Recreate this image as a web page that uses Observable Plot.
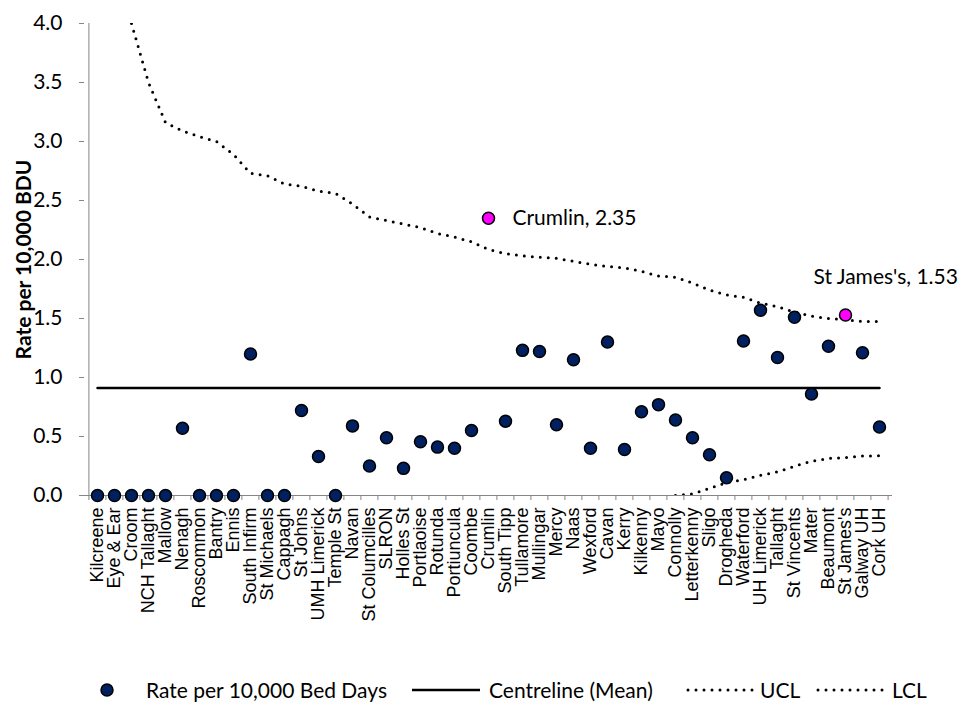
<!DOCTYPE html>
<html><head><meta charset="utf-8">
<script src="https://cdn.jsdelivr.net/npm/d3@7"></script>
<script src="https://cdn.jsdelivr.net/npm/@observablehq/plot@0.6"></script>
<style>
body{margin:0;background:#fff;}
#chart{position:relative;width:972px;height:707px;overflow:hidden;background:#fff;}
#chart svg.plot{position:absolute;left:0;top:0;}
.leg{position:absolute;font-family:Lato,sans-serif;font-size:21px;line-height:24px;white-space:nowrap;color:#000;}
.sw{position:absolute;}
</style></head><body><div id="chart"></div>
<script>
const hospitals = ["Kilcreene","Eye & Ear","Croom","NCH Tallaght","Mallow","Nenagh","Roscommon","Bantry","Ennis","South Infirm","St Michaels","Cappagh","St Johns","UMH Limerick","Temple St","Navan","St Columcilles","SLRON","Holles St","Portlaoise","Rotunda","Portiuncula","Coombe","Crumlin","South Tipp","Tullamore","Mullingar","Mercy","Naas","Wexford","Cavan","Kerry","Kilkenny","Mayo","Connolly","Letterkenny","Sligo","Drogheda","Waterford","UH Limerick","Tallaght","St Vincents","Mater","Beaumont","St James's","Galway UH","Cork UH"];
const rates = [0,0,0,0,0,0.57,0,0,0,1.20,0,0,0.72,0.33,0,0.59,0.25,0.49,0.23,0.455,0.41,0.40,0.55,2.35,0.63,1.23,1.22,0.60,1.15,0.40,1.30,0.39,0.71,0.77,0.64,0.49,0.345,0.15,1.31,1.57,1.17,1.51,0.86,1.265,1.53,1.21,0.58];
const centreline = 0.91;
const ucl = [null,null,4.0,3.50,3.16,3.09,3.04,3.00,2.89,2.73,2.71,2.64,2.62,2.58,2.56,2.47,2.36,2.33,2.30,2.27,2.22,2.19,2.15,2.085,2.05,2.03,2.02,2.01,1.985,1.96,1.94,1.93,1.90,1.86,1.85,1.80,1.74,1.70,1.68,1.63,1.60,1.555,1.52,1.50,1.49,1.475,1.475];
const lcl = [null,null,null,null,null,null,null,null,null,null,null,null,null,null,null,null,null,null,null,null,null,null,null,null,null,null,null,null,null,null,null,null,null,null,0.0,0.014,0.06,0.11,0.133,0.171,0.20,0.248,0.29,0.314,0.322,0.334,0.336];
const highlighted = ["Crumlin","St James's"];
const yTicks = [0,0.5,1,1.5,2,2.5,3,3.5,4];
const yTitle = "Rate per 10,000 BDU";
const legendLabels = ["Rate per 10,000 Bed Days","Centreline (Mean)","UCL","LCL"];

const W = 972, H = 650, ML = 84, MR = 80, MT = 23, MB = 155;
const step = (W - ML - MR) / hospitals.length;
const gray = "#868686", navy = "#002060", magenta = "#FF00FF";
const calibri = "Lato, 'Open Sans', sans-serif";
const arial = "'Liberation Sans', Arial, sans-serif";

const rows = hospitals.map((h, i) => ({h, rate: rates[i], ucl: ucl[i], lcl: lcl[i], mean: centreline}));
const normal = rows.filter(d => !highlighted.includes(d.h));
const special = rows.filter(d => highlighted.includes(d.h));

const plot = Plot.plot({
  width: W, height: H, marginTop: MT, marginBottom: MB, marginLeft: ML, marginRight: MR,
  x: {type: "point", domain: hospitals, padding: 0.5, label: null},
  y: {domain: [0, 4], label: null},
  style: {background: "white", overflow: "visible"},
  marks: [
    Plot.axisY({ticks: yTicks, tickFormat: d3.format(".1f"), tickSize: 5, tickPadding: 17, stroke: gray, fill: "black", fontFamily: calibri, fontSize: 21, label: null}),
    Plot.axisX({tickSize: 0, tickPadding: 12, tickRotate: -90, fontFamily: arial, fontSize: 18, fill: "black", label: null}),
    Plot.ruleX(hospitals, {x: d => d, y1: 0, y2: 0, insetBottom: -5, dx: -step / 2, stroke: gray}),
    Plot.ruleX([hospitals[hospitals.length - 1]], {x: d => d, y1: 0, y2: 0, insetBottom: -5, dx: step / 2, stroke: gray}),
    Plot.ruleX([hospitals[0]], {x: d => d, y1: 0, y2: 4, dx: -step / 2, stroke: gray}),
    Plot.ruleY([0], {stroke: gray}),
    Plot.text([yTitle], {frameAnchor: "left", text: d => d, rotate: -90, dx: -54, lineAnchor: "bottom", textAnchor: "middle", fontWeight: "bold", fontFamily: calibri, fontSize: 21, fill: "black"}),
    Plot.line(rows, {x: "h", y: "mean", stroke: "black", strokeWidth: 2.5}),
    Plot.line(rows.filter(d => d.ucl != null), {x: "h", y: "ucl", stroke: "black", strokeWidth: 3, strokeDasharray: "0 8", strokeLinecap: "round", clip: true}),
    Plot.line(rows.filter(d => d.lcl != null), {x: "h", y: "lcl", stroke: "black", strokeWidth: 3, strokeDasharray: "0 8", strokeLinecap: "round", clip: true}),
    Plot.dot(normal, {x: "h", y: "rate", r: 6, fill: navy, stroke: "black", strokeWidth: 1.5}),
    Plot.dot(special, {x: "h", y: "rate", r: 6, fill: magenta, stroke: "black", strokeWidth: 1.5}),
    Plot.text(special.filter(d => d.h === "Crumlin"), {x: "h", y: "rate", text: d => `${d.h}, ${d.rate}`, textAnchor: "start", dx: 24, fontFamily: calibri, fontSize: 21, fill: "black"}),
    Plot.text(special.filter(d => d.h === "St James's"), {x: "h", y: "rate", text: d => `${d.h}, ${d.rate}`, textAnchor: "start", dx: -32, dy: -38, fontFamily: calibri, fontSize: 21, fill: "black"})
  ]
});
plot.classList.add("plot");
const chart = document.getElementById("chart");
chart.appendChild(plot);

// legend
const legTop = 678;
function addText(txt, left) {
  const d = document.createElement("div");
  d.className = "leg"; d.textContent = txt;
  d.style.left = left + "px"; d.style.top = legTop + "px";
  chart.appendChild(d);
}
function addSwatch(svg, left, w) {
  const d = document.createElement("div");
  d.className = "sw"; d.style.left = left + "px"; d.style.top = (legTop) + "px";
  d.innerHTML = `<svg width="${w}" height="24" style="display:block">${svg}</svg>`;
  chart.appendChild(d);
}
addSwatch(`<circle cx="9" cy="12" r="6" fill="${navy}" stroke="black" stroke-width="1.5"/>`, 98, 18);
addText(legendLabels[0], 146);
addSwatch(`<line x1="0" y1="12" x2="68" y2="12" stroke="black" stroke-width="2.5"/>`, 412, 68);
addText(legendLabels[1], 489);
addSwatch(`<line x1="3" y1="12" x2="70" y2="12" stroke="black" stroke-width="3" stroke-dasharray="0 8" stroke-linecap="round"/>`, 685, 72);
addText(legendLabels[2], 760);
addSwatch(`<line x1="3" y1="12" x2="72" y2="12" stroke="black" stroke-width="3" stroke-dasharray="0 8" stroke-linecap="round"/>`, 815, 74);
addText(legendLabels[3], 892);
</script></body></html>
